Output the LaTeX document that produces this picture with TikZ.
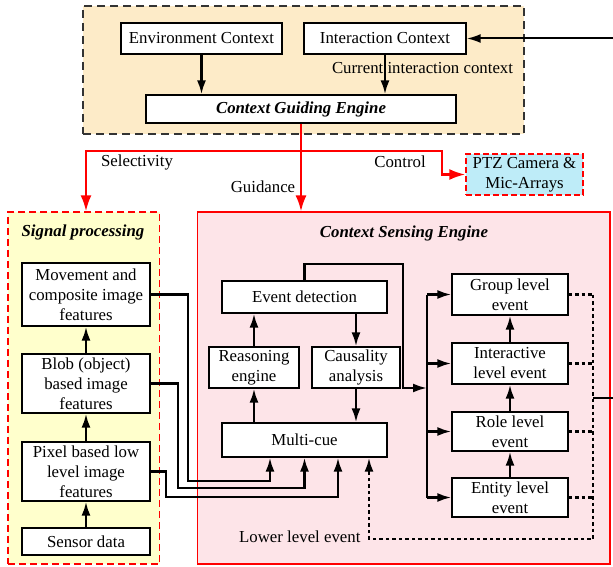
\documentclass[tikz,border=0pt]{standalone}
\usepackage{fontspec}
\setmainfont{Liberation Serif}
\usetikzlibrary{arrows.meta}
\definecolor{guidefill}{RGB}{253,235,200}
\definecolor{signalfill}{RGB}{255,255,204}
\definecolor{sensefill}{RGB}{253,228,232}
\definecolor{ptzfill}{RGB}{190,236,248}
\tikzset{
  box/.style={draw, fill=white, line width=1.4pt, align=center, inner sep=0pt},
  arr/.style={-{Latex[length=14pt,width=9pt]}, line width=2.3pt},
  redarr/.style={-{Latex[length=16pt,width=11pt]}, red, line width=2.3pt},
  dotline/.style={line width=2.4pt, dash pattern=on 3.5pt off 3pt},
  lowarr/.style={arr, dash pattern=on 3.5pt off 3pt},
}

\begin{document}
\begin{tikzpicture}[x=1pt, y=-1pt, font=\fontsize{16.8}{20}\selectfont]
\useasboundingbox (0,0) rectangle (613,567);

% containers
\node[draw=black!80, fill=guidefill, dash pattern=on 8pt off 5pt, line width=1.5pt, minimum width=441pt, minimum height=128pt] (guide) at (303.5,70) {};
\node[draw=red, fill=signalfill, dash pattern=on 7pt off 4pt, line width=1.4pt, minimum width=151.5pt, minimum height=352pt] (sig) at (83.75,388) {};
\node[draw=red, fill=sensefill, line width=1.1pt, minimum width=412.5pt, minimum height=352pt] (cse) at (403.75,388) {};
\node[draw=red, fill=ptzfill, dash pattern=on 6pt off 3pt, line width=1.4pt, minimum width=117pt, minimum height=41pt, align=center, inner sep=0pt] (ptz) at (524.5,174.5) {PTZ Camera \&\\Mic-Arrays};

% guiding engine
\node[box, minimum width=161pt, minimum height=31pt] (env) at (201.5,38.5) {Environment Context};
\node[box, minimum width=162pt, minimum height=31pt] (inter) at (385,38.5) {Interaction Context};
\node[box, minimum width=310pt, minimum height=28pt] (cge) at (301,109) {\textbf{\textit{Context Guiding Engine}}};
\node (cur) at (422.5,68) {Current interaction context};

% labels
\node (sel) at (137,162) {Selectivity};
\node (ctl) at (400,162) {Control};
\node (gui) at (263,187) {Guidance};
\node (sigt) at (83,232) {\textbf{\textit{Signal processing}}};
\node (cset) at (404,233) {\textbf{\textit{Context Sensing Engine}}};
\node[anchor=east] (low) at (364,537) {Lower level event};

% signal processing
\node[box, minimum width=128pt, minimum height=63pt] (mov) at (86,294.5) {Movement and\\composite image\\features};
\node[box, minimum width=128pt, minimum height=59pt] (blob) at (86,383.5) {Blob (object)\\based image\\features};
\node[box, minimum width=128pt, minimum height=59pt] (pixel) at (86,471.5) {Pixel based low\\level image\\features};
\node[box, minimum width=128pt, minimum height=27pt] (sensor) at (86,541.5) {Sensor data};

% sensing engine
\node[box, minimum width=165pt, minimum height=32pt] (evt) at (304.5,297) {Event detection};
\node[box, minimum width=90pt, minimum height=41pt] (reas) at (254,367.5) {Reasoning\\engine};
\node[box, minimum width=88pt, minimum height=41pt] (caus) at (356,367.5) {Causality\\analysis};
\node[box, minimum width=165pt, minimum height=34pt] (mcue) at (304.5,440) {Multi-cue};

\node[box, minimum width=116pt, minimum height=41pt] (group) at (510,294.5) {Group level\\event};
\node[box, minimum width=116pt, minimum height=41pt] (interev) at (510,363.5) {Interactive\\level event};
\node[box, minimum width=116pt, minimum height=39pt] (role) at (510,431.5) {Role level\\event};
\node[box, minimum width=116pt, minimum height=39pt] (entity) at (510,497.5) {Entity level\\event};

\coordinate (feedin) at (613,38.5);
\coordinate (fork) at (301,151);
\coordinate (ctlbend) at (442,174.5);
\coordinate (evtbend) at (403,264);
\coordinate (bus) at (427,388);
\coordinate (loop) at (593,539);
\coordinate (exitpt) at (613,398);

% top connectors
\draw[arr, line width=2pt] (feedin) -- (inter.east);
\draw[arr] (env) -- (env |- cge.north);
\draw[arr] (inter) -- (inter |- cge.north);

% red connectors
\draw[redarr] (cge.south) -- (cge.south |- cse.north);
\draw[redarr] (fork) -| (mov |- sig.north);
\draw[redarr] (fork) -| (ctlbend) -- (ptz.west);

% signal processing chain
\draw[arr] (sensor) -- (pixel);
\draw[arr] (pixel) -- (blob);
\draw[arr] (blob) -- (mov);
\draw[arr] (mov.east) -| (188,481) -| ([xshift=-34.5pt]mcue.south);
\draw[arr] (blob.east) -| (178,488) -| (mcue.south);
\draw[arr] (pixel.east) -| (166,497) -| ([xshift=33.5pt]mcue.south);

% sensing engine
\draw[arr] (reas |- mcue.north) -- (reas);
\draw[arr] (reas) -- (reas |- evt.south);
\draw[arr] (caus |- evt.south) -- (caus);
\draw[arr] (caus) -- (caus |- mcue.north);
\draw[arr] (evt.north) |- (evtbend) |- (bus);
\draw[line width=2.3pt] (bus |- group) -- (bus |- entity);
\foreach \n in {group,interev,role,entity}
  \draw[arr] (bus |- \n) -- (\n.west);
\draw[arr] (entity) -- (role);
\draw[arr] (role) -- (interev);
\draw[arr] (interev) -- (group);

% lower level feedback
\foreach \n in {group,interev,role,entity}
  \draw[dotline] (\n.east) -- (\n.east -| loop);
\draw[lowarr] (group.east -| loop) |- ([xshift=64.5pt]mcue.south |- loop) -- ([xshift=64.5pt]mcue.south);
\draw[line width=1.8pt] (loop |- exitpt) -- (exitpt);
\end{tikzpicture}
\end{document}
